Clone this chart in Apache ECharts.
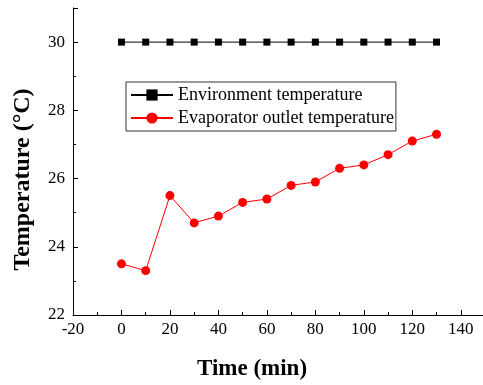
<!DOCTYPE html>
<html>
<head>
<meta charset="utf-8">
<script src="https://cdn.jsdelivr.net/npm/echarts@6/dist/echarts.min.js"></script>
<style>
html,body{margin:0;padding:0;background:#fff;}
#c{width:483px;height:385px;}
</style>
</head>
<body>
<div id="c"></div>
<script>
// Data
const times = [0, 10, 20, 30, 40, 50, 60, 70, 80, 90, 100, 110, 120, 130];
const environmentTemp = [30, 30, 30, 30, 30, 30, 30, 30, 30, 30, 30, 30, 30, 30];
const evaporatorOutletTemp = [23.5, 23.3, 25.5, 24.7, 24.9, 25.3, 25.4, 25.8, 25.9, 26.3, 26.4, 26.7, 27.1, 27.3];
const xTickLabels = [-20, 0, 20, 40, 60, 80, 100, 120, 140];
const xMinorTicks = [-10, 10, 30, 50, 70, 90, 110, 130];
const yTickLabels = [22, 24, 26, 28, 30];
const yMinorTicks = [23, 25, 27, 29];
const seriesNames = ['Environment temperature', 'Evaporator outlet temperature'];

const font = 'Liberation Serif, Times New Roman, serif';
const pairs = (ys) => times.map((t, i) => [t, ys[i]]);
const onlyIn = (list) => (v) => (list.indexOf(v) >= 0 ? String(v) : '');

function tickAxis(min, max, pos, values, len) {
  return {
    type: 'value', min: min, max: max, position: pos, offset: 0,
    axisLine: {show: false, onZero: false},
    axisTick: {show: true, inside: true, length: len, customValues: values, lineStyle: {color: '#000', width: 1}},
    axisLabel: {show: false},
    splitLine: {show: false}
  };
}

const chart = echarts.init(document.getElementById('c'), null, {renderer: 'canvas'});
chart.setOption({
  animation: false,
  backgroundColor: '#fff',
  grid: {left: 73, right: -2, top: 8, bottom: 70, containLabel: false, outerBoundsMode: 'none'},
  legend: {
    orient: 'vertical',
    left: 126, top: 82,
    padding: [3, 2, 3, 4],
    itemGap: 3,
    itemWidth: 42, itemHeight: 14,
    borderColor: '#333', borderWidth: 1,
    textStyle: {fontFamily: font, fontSize: 18, color: '#000', lineHeight: 20},
    data: seriesNames
  },
  xAxis: [{
    type: 'value', min: -20, max: 150, interval: 20,
    name: 'Time (min)', nameLocation: 'middle', nameGap: 43,
    nameTextStyle: {fontFamily: font, fontSize: 23, fontWeight: 'bold', color: '#000', padding: [0, 54, 0, 0]},
    axisLine: {show: true, onZero: false, lineStyle: {color: '#000', width: 1}},
    axisTick: {show: true, inside: true, length: 5, lineStyle: {color: '#000', width: 1}},
    axisLabel: {formatter: onlyIn(xTickLabels), fontFamily: font, fontSize: 17, color: '#000', margin: 6},
    splitLine: {show: false}
  },
    tickAxis(-20, 150, 'bottom', xMinorTicks, 3)
  ],
  yAxis: [{
    type: 'value', min: 22, max: 31, interval: 2,
    name: 'Temperature (°C)', nameLocation: 'middle', nameGap: 38,
    nameTextStyle: {fontFamily: font, fontSize: 24, fontWeight: 'bold', color: '#000', padding: [0, 36, 0, 0]},
    axisLine: {show: true, onZero: false, lineStyle: {color: '#000', width: 1}},
    axisTick: {show: true, inside: true, length: 5, lineStyle: {color: '#000', width: 1}},
    axisLabel: {formatter: onlyIn(yTickLabels), fontFamily: font, fontSize: 17, color: '#000', margin: 8},
    splitLine: {show: false}
  },
    tickAxis(22, 31, 'left', yMinorTicks, 3)
  ],
  series: [{
    name: seriesNames[0], type: 'line', data: pairs(environmentTemp),
    symbol: 'rect', symbolSize: 7,
    itemStyle: {color: '#000'}, lineStyle: {color: '#000', width: 1}
  }, {
    name: seriesNames[1], type: 'line', data: pairs(evaporatorOutletTemp),
    symbol: 'circle', symbolSize: 9,
    itemStyle: {color: '#ff0000'}, lineStyle: {color: '#ff0000', width: 1}
  }]
});
</script>
</body>
</html>
